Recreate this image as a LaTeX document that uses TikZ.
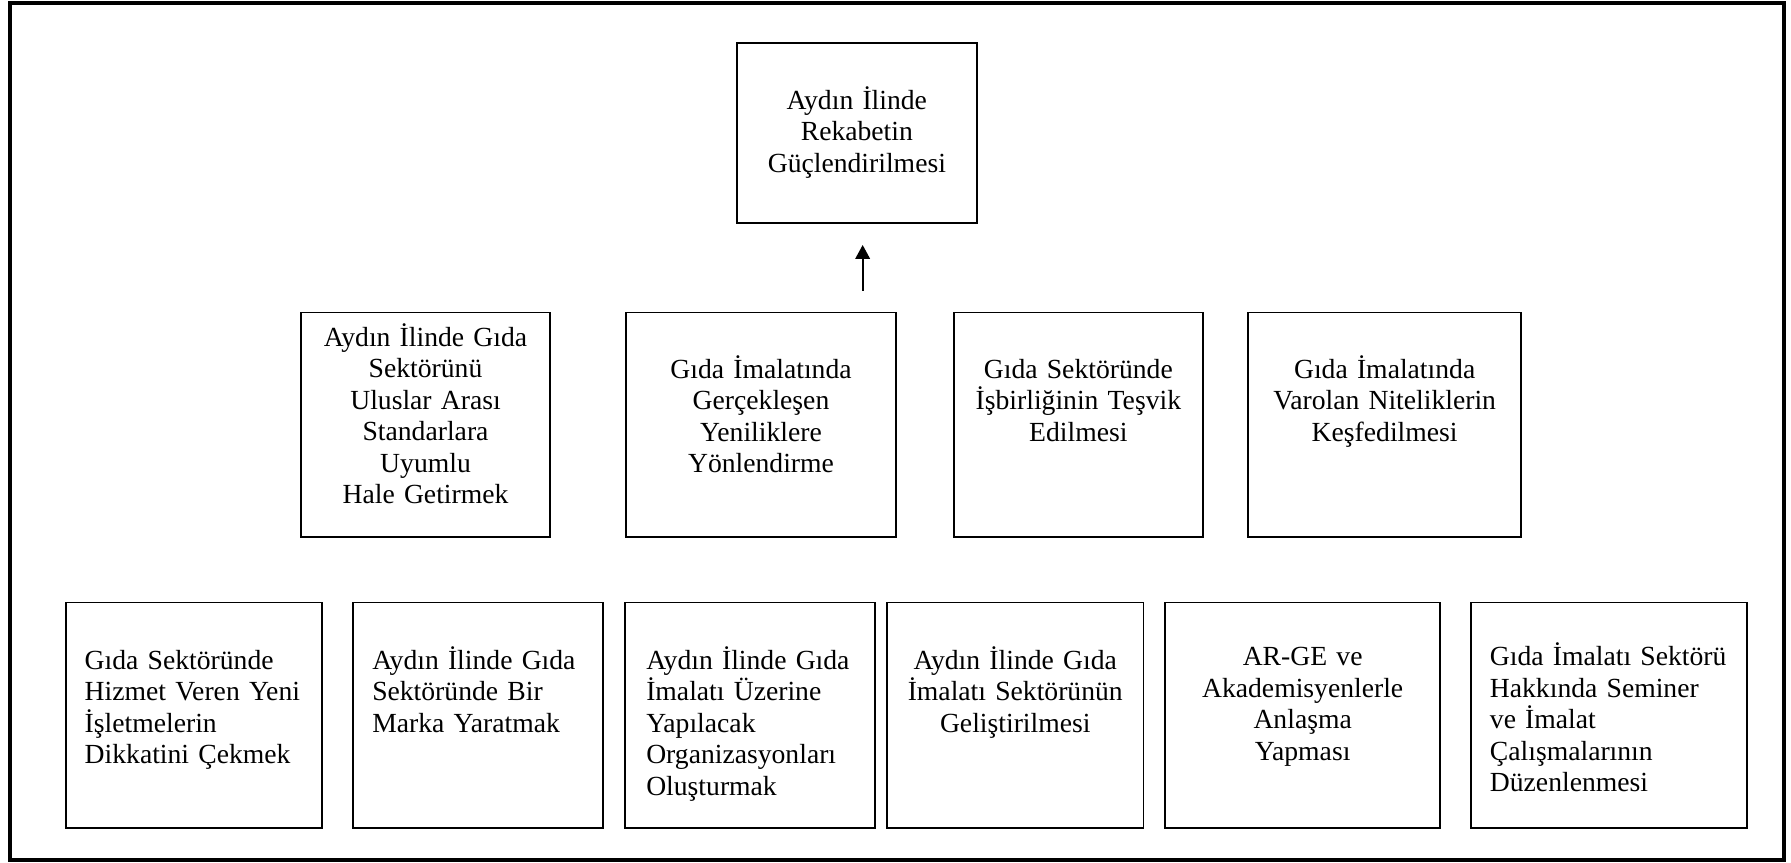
\documentclass[tikz,border=0pt]{standalone}
\usepackage{fontspec}
\setmainfont{Liberation Serif}
\usetikzlibrary{arrows.meta}

\begin{document}
\begin{tikzpicture}[font=\fontsize{11.8}{13.45}\selectfont,
  >={Triangle[length=2.1mm,width=2.2mm]},
  kutu/.style={draw,line width=0.75pt,inner sep=0pt,minimum height=3.38cm},
  orta/.style={inner sep=0pt,anchor=base,align=center,text width=3.7cm},
  sol/.style={inner sep=0pt,anchor=base west,align=left,text width=3.9cm}]
  \useasboundingbox (0,0) rectangle (26.865,12.945);
  \draw[line width=1.7pt] (0.15,0.045) rectangle (26.76,12.894);

  \node[kutu,minimum width=3.6cm,minimum height=2.7cm] (hedef) at (12.853,10.955) {};
  \node[orta] (hedefy) at ([yshift=-1.01cm]hedef.north)
    {Aydın İlinde\\Rekabetin\\Güçlendirilmesi};

  \coordinate (okalt) at (12.94,8.585);
  \coordinate (okust) at (12.94,9.27);
  \draw[->,line width=0.75pt] (okalt) -- (okust);

  \node[kutu,minimum width=3.744cm,minimum height=3.37cm] (a1) at (6.383,6.572) {};
  \node[orta] (a1y) at ([yshift=-0.516cm]a1.north)
    {Aydın İlinde Gıda\\Sektörünü\\Uluslar Arası\\Standarlara\\Uyumlu\\Hale Getirmek};
  \node[kutu,minimum width=4.05cm,minimum height=3.37cm] (a2) at (11.415,6.572) {};
  \node[orta] (a2y) at ([yshift=-1.0cm]a2.north)
    {Gıda İmalatında\\Gerçekleşen\\Yeniliklere\\Yönlendirme};
  \node[kutu,minimum width=3.738cm,minimum height=3.37cm] (a3) at (16.175,6.572) {};
  \node[orta] (a3y) at ([yshift=-1.0cm]a3.north)
    {Gıda Sektöründe\\İşbirliğinin Teşvik\\Edilmesi};
  \node[kutu,minimum width=4.09cm,minimum height=3.37cm] (a4) at (20.77,6.572) {};
  \node[orta] (a4y) at ([yshift=-1.0cm]a4.north)
    {Gıda İmalatında\\Varolan Niteliklerin\\Keşfedilmesi};

  \node[kutu,minimum width=3.846cm] (b1) at (2.91,2.218) {};
  \node[sol] (b1y) at ([xshift=0.29cm,yshift=-1.015cm]b1.north west)
    {Gıda Sektöründe\\Hizmet Veren Yeni\\İşletmelerin\\Dikkatini Çekmek};
  \node[kutu,minimum width=3.74cm] (b2) at (7.17,2.218) {};
  \node[sol] (b2y) at ([xshift=0.29cm,yshift=-1.015cm]b2.north west)
    {Aydın İlinde Gıda\\Sektöründe Bir\\Marka Yaratmak};
  \node[kutu,minimum width=3.75cm] (b3) at (11.245,2.218) {};
  \node[sol] (b3y) at ([xshift=0.33cm,yshift=-1.015cm]b3.north west)
    {Aydın İlinde Gıda\\İmalatı Üzerine\\Yapılacak\\Organizasyonları\\Oluşturmak};
  \node[kutu,minimum width=3.85cm] (b4) at (15.229,2.218) {};
  \node[orta] (b4y) at ([yshift=-1.015cm]b4.north)
    {Aydın İlinde Gıda\\İmalatı Sektörünün\\Geliştirilmesi};
  \node[kutu,minimum width=4.13cm] (b5) at (19.54,2.218) {};
  \node[orta] (b5y) at ([yshift=-0.96cm]b5.north)
    {AR-GE ve\\Akademisyenlerle\\Anlaşma\\Yapması};
  \node[kutu,minimum width=4.14cm] (b6) at (24.135,2.218) {};
  \node[sol] (b6y) at ([xshift=0.29cm,yshift=-0.96cm]b6.north west)
    {Gıda İmalatı Sektörü\\Hakkında Seminer\\ve İmalat\\Çalışmalarının\\Düzenlenmesi};
\end{tikzpicture}
\end{document}
